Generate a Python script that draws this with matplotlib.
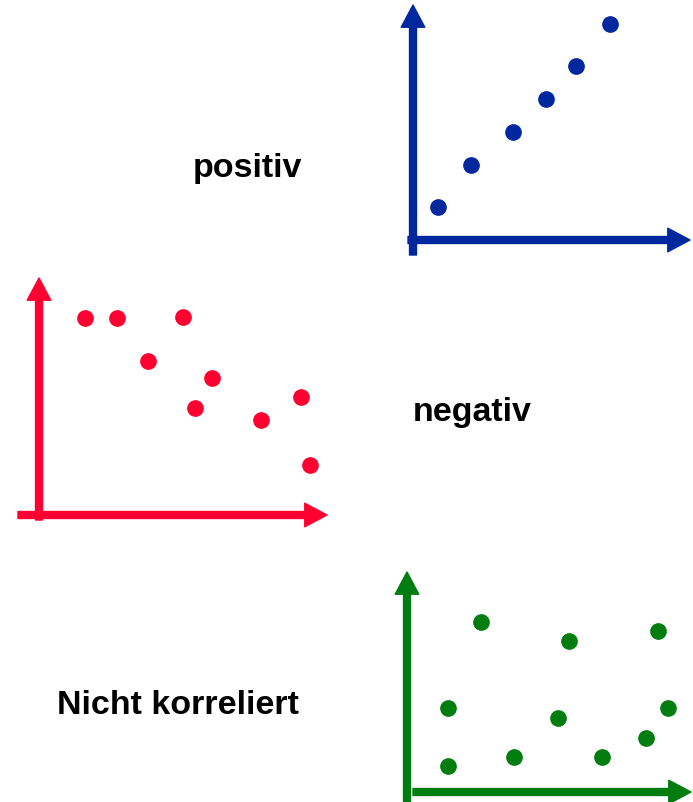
import matplotlib.pyplot as plt

# Punkte je Diagramm (Einheiten 0..10 entlang der Pfeile)
pos_x = [0.9, 2.1, 3.6, 4.8, 5.9, 7.1]
pos_y = [1.4, 3.2, 4.6, 6.0, 7.4, 9.2]

neg_x = [1.6, 2.7, 5.0, 3.8, 6.0, 5.4, 7.7, 9.1, 9.4]
neg_y = [8.3, 8.3, 8.35, 6.5, 5.8, 4.5, 4.0, 5.0, 2.1]

nk_x = [1.45, 2.6, 5.7, 8.85, 1.45, 3.75, 5.3, 6.85, 8.4, 9.2]
nk_y = [1.2, 7.75, 6.85, 7.3, 3.8, 1.6, 3.35, 1.6, 2.45, 3.8]

labels = ["positiv", "negativ", "Nicht korreliert"]

W, H = 693, 802
fig = plt.figure(figsize=(W / 100, H / 100), dpi=100)


def panel(left, bottom, right, top, xs, ys, color, v_ext, h_start):
    # pixel box -> figure fraction
    ax = fig.add_axes([left / W, 1 - bottom / H, (right - left) / W, (bottom - top) / H])
    ax.set_xlim(0, 10)
    ax.set_ylim(0, 10)
    ax.axis("off")
    arrow = dict(width=5, headwidth=17, headlength=16, color=color, shrink=0)
    # vertical axis
    ax.annotate("", xy=(0, 1), xytext=(0, -v_ext / (bottom - top)),
                xycoords="axes fraction", arrowprops=arrow, annotation_clip=False)
    # horizontal axis
    ax.annotate("", xy=(1, 0), xytext=(h_start / (right - left), 0),
                xycoords="axes fraction", arrowprops=arrow, annotation_clip=False)
    ax.plot(xs, ys, "o", color=color, markersize=11, clip_on=False)
    return ax


panel(413, 240, 690, 5, pos_x, pos_y, "#00289E", 15, -5)
panel(39, 515, 327, 278, neg_x, neg_y, "#FF0030", 5, -21)
panel(407, 792, 691, 572, nk_x, nk_y, "#007D0F", 12, 6)

font = dict(family="Liberation Sans", fontsize=24.5, fontweight="bold", ha="center", va="center")
fig.text(247 / W, 1 - 169 / H, labels[0], **font)
fig.text(472 / W, 1 - 413 / H, labels[1], **font)
fig.text(178 / W, 1 - 705 / H, labels[2], **font)

fig.savefig("out.png", dpi=100)
